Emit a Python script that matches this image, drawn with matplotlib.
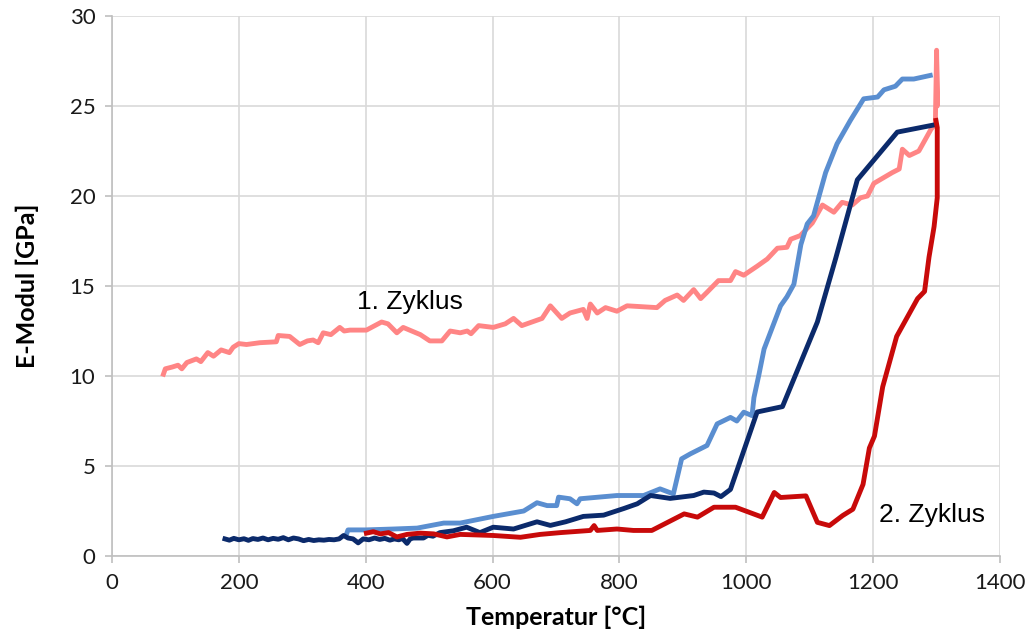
import matplotlib.pyplot as plt

plt.rcParams['font.family'] = ['Lato', 'DejaVu Sans']

# 1. Zyklus (Aufheizen)
t_z1 = [81, 84, 95, 104, 110, 118, 133, 140, 151, 160, 172, 185, 191, 200, 212, 233, 259, 262,
        280, 296, 308, 317, 325, 333, 345, 359, 366, 375, 401, 425, 435, 449, 459, 486, 501, 520,
        533, 549, 560, 566, 578, 601, 620, 633, 646, 678, 691, 709, 722, 743, 749, 754, 765, 778,
        796, 812, 859, 872, 891, 901, 917, 928, 938, 956, 975, 983, 996, 1017, 1033, 1049, 1064,
        1070, 1085, 1104, 1120, 1138, 1151, 1167, 1180, 1191, 1201, 1230, 1241, 1246, 1257, 1272,
        1291, 1298, 1300, 1301, 1300]
e_z1 = [10.1, 10.4, 10.5, 10.6, 10.4, 10.75, 10.95, 10.8, 11.3, 11.1, 11.45, 11.3, 11.6, 11.8,
        11.75, 11.85, 11.9, 12.25, 12.2, 11.75, 11.95, 12.0, 11.85, 12.4, 12.3, 12.7, 12.5, 12.55,
        12.55, 13.0, 12.9, 12.4, 12.7, 12.3, 11.95, 11.95, 12.5, 12.4, 12.5, 12.35, 12.8, 12.7,
        12.9, 13.2, 12.8, 13.2, 13.9, 13.2, 13.5, 13.7, 13.2, 14.0, 13.5, 13.8, 13.6, 13.9, 13.8,
        14.2, 14.5, 14.2, 14.8, 14.3, 14.65, 15.3, 15.3, 15.8, 15.6, 16.1, 16.5, 17.1, 17.15, 17.6,
        17.8, 18.5, 19.5, 19.1, 19.65, 19.5, 19.9, 20.0, 20.7, 21.3, 21.5, 22.6, 22.25, 22.5, 23.7,
        24.0, 28.1, 25.0, 27.5]

# 2. Zyklus, Aufheizen
t_z2a = [370, 372, 400, 444, 481, 523, 549, 601, 649, 670, 686, 701, 704, 722, 733, 738, 796,
         838, 864, 885, 898, 912, 938, 954, 975, 985, 996, 1009, 1012, 1020, 1028, 1054, 1064,
         1075, 1086, 1096, 1106, 1125, 1143, 1164, 1185, 1207, 1217, 1235, 1246, 1264, 1290]
e_z2a = [1.25, 1.45, 1.45, 1.5, 1.55, 1.83, 1.83, 2.2, 2.5, 2.96, 2.8, 2.8, 3.27, 3.18, 2.9,
         3.18, 3.36, 3.36, 3.73, 3.45, 5.4, 5.68, 6.14, 7.34, 7.7, 7.5, 7.99, 7.8, 8.8, 10.1, 11.5,
         13.9, 14.4, 15.1, 17.3, 18.45, 18.9, 21.3, 22.9, 24.2, 25.4, 25.5, 25.9, 26.1, 26.5,
         26.5, 26.7]

# 2. Zyklus, zweite Messung
t_z2b = [178, 185, 192, 200, 208, 215, 222, 230, 238, 246, 254, 262, 270, 278, 286, 294, 302,
         310, 318, 326, 334, 342, 350, 358, 365, 372, 380, 388, 396, 405, 414, 422, 430, 438, 445,
         452, 458, 465, 470, 475, 491, 498, 506, 517, 538, 559, 580, 601, 633, 670, 691, 715, 743,
         775, 807, 828, 849, 880, 917, 933, 949, 960, 975, 1017, 1057, 1112, 1141, 1175, 1238,
         1296]
e_z2b = [0.95, 0.88, 0.98, 0.9, 0.96, 0.87, 0.97, 0.92, 1.0, 0.9, 0.98, 0.93, 1.02, 0.9, 1.0,
         0.95, 0.85, 0.92, 0.86, 0.9, 0.88, 0.92, 0.9, 0.95, 1.14, 1.0, 0.95, 0.73, 0.95, 0.9,
         1.0, 0.92, 0.98, 0.88, 0.95, 0.9, 0.97, 0.7, 0.95, 1.0, 1.0, 1.15, 1.1, 1.3, 1.4, 1.6,
         1.3, 1.6, 1.5, 1.9, 1.7, 1.9, 2.2, 2.27, 2.64, 2.9, 3.36, 3.2, 3.36, 3.55, 3.5, 3.3, 3.7,
         8.0, 8.3, 13.0, 16.55, 20.9, 23.55, 23.95]

# 2. Zyklus, Abkuehlen
t_z2c = [401, 412, 423, 436, 449, 465, 486, 507, 528, 549, 601, 644, 675, 707, 754, 760, 765,
         796, 822, 851, 902, 923, 949, 983, 1025, 1044, 1054, 1094, 1112, 1131, 1152, 1168, 1184,
         1194, 1202, 1215, 1237, 1270, 1281, 1288, 1296, 1301, 1301, 1299]
e_z2c = [1.27, 1.35, 1.23, 1.3, 1.06, 1.2, 1.27, 1.23, 1.06, 1.2, 1.14, 1.04, 1.2, 1.3, 1.42,
         1.69, 1.42, 1.5, 1.42, 1.42, 2.34, 2.16, 2.71, 2.71, 2.16, 3.53, 3.25, 3.34, 1.87, 1.69,
         2.25, 2.6, 3.98, 6.0, 6.66, 9.4, 12.2, 14.3, 14.7, 16.6, 18.3, 19.9, 23.8, 24.2]

fig = plt.figure(figsize=(10.26, 6.41), dpi=100)
ax = fig.add_axes([0.1092, 0.1326, 0.8655, 0.8424])

lw = 3.5
ax.plot(t_z1, e_z1, color='#FF8585', lw=lw, solid_joinstyle='round')
ax.plot(t_z2a, e_z2a, color='#5A8ED0', lw=lw, solid_joinstyle='round')
ax.plot(t_z2b, e_z2b, color='#0B2A6B', lw=lw, solid_joinstyle='round')
ax.plot(t_z2c, e_z2c, color='#C80A0A', lw=lw, solid_joinstyle='round')

ax.text(469, 14.1, '1. Zyklus', fontsize=19, family='Liberation Sans', ha='center', va='center')
ax.text(1293, 2.3, '2. Zyklus', fontsize=19, family='Liberation Sans', ha='center', va='center')

ax.set_xlim(0, 1400)
ax.set_ylim(0, 30)
ax.set_xticks(range(0, 1401, 200))
ax.set_yticks(range(0, 31, 5))
ax.grid(True, color='#D9D9D9', lw=1.2)
ax.set_axisbelow(True)
for s in ['top', 'right']:
    ax.spines[s].set_visible(False)
for s in ['left', 'bottom']:
    ax.spines[s].set_color('#BFBFBF')
    ax.spines[s].set_linewidth(1.2)
ax.tick_params(length=5, width=1.2, color='#BFBFBF', labelsize=16, pad=7, labelcolor='#1a1a1a')

ax.set_xlabel('Temperatur [°C]', fontsize=18, fontweight='bold', labelpad=9)
ax.set_ylabel('E-Modul [GPa]', fontsize=18, fontweight='bold', labelpad=22)

fig.savefig('out.png', dpi=100)
